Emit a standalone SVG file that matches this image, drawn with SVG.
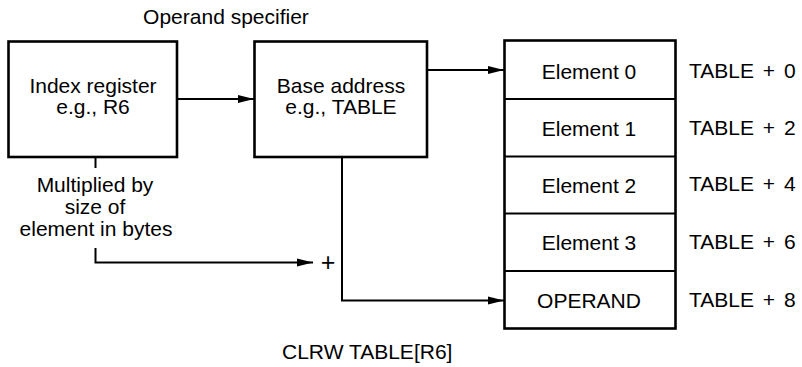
<svg xmlns="http://www.w3.org/2000/svg" width="802" height="367" viewBox="0 0 802 367">
  <style>
    text { font-family: "Liberation Sans", Arial, sans-serif; font-size: 21px; fill: #000; }
    .c { text-anchor: middle; }
    .box { fill: #fff; stroke: #000; stroke-width: 2.6; }
    .div { stroke: #000; stroke-width: 2; fill: none; }
    .wire { stroke: #000; stroke-width: 2; fill: none; }
    .lbl { word-spacing: 3px; }
    .plus { font-size: 25px; }
  </style>
  <defs>
    <marker id="arrow" viewBox="0 0 16 10" refX="16" refY="5" markerWidth="16" markerHeight="10" markerUnits="userSpaceOnUse" orient="auto">
      <path d="M0,1 L16,5 L0,9 Z" fill="#000"/>
    </marker>
  </defs>

  <text class="c" x="226" y="24">Operand specifier</text>

  <g id="index-register">
    <rect class="box" x="8.5" y="41.5" width="168.5" height="115.5"/>
    <text class="c" x="93" y="93">Index register</text>
    <text class="c" x="93" y="114">e.g., R6</text>
  </g>

  <g id="base-address">
    <rect class="box" x="254.5" y="41.5" width="172.5" height="115.5"/>
    <text class="c" x="341" y="93">Base address</text>
    <text class="c" x="341" y="114">e.g., TABLE</text>
  </g>

  <g id="table">
    <rect class="box" x="504.5" y="40.5" width="171" height="288"/>
    <line class="div" x1="504.5" y1="99" x2="675.5" y2="99"/>
    <line class="div" x1="504.5" y1="156.5" x2="675.5" y2="156.5"/>
    <line class="div" x1="504.5" y1="213.5" x2="675.5" y2="213.5"/>
    <line class="div" x1="504.5" y1="271" x2="675.5" y2="271"/>
    <text class="c" x="589" y="79">Element 0</text>
    <text class="c" x="589" y="136">Element 1</text>
    <text class="c" x="589" y="193">Element 2</text>
    <text class="c" x="589" y="250">Element 3</text>
    <text class="c" x="589" y="308">OPERAND</text>
  </g>

  <g id="offsets">
    <text class="lbl" x="689" y="78">TABLE + 0</text>
    <text class="lbl" x="689" y="135">TABLE + 2</text>
    <text class="lbl" x="689" y="191">TABLE + 4</text>
    <text class="lbl" x="689" y="249">TABLE + 6</text>
    <text class="lbl" x="689" y="307">TABLE + 8</text>
  </g>

  <g id="scale-note">
    <text class="c" x="95" y="192">Multiplied by</text>
    <text class="c" x="95" y="214">size of</text>
    <text class="c" x="96" y="236">element in bytes</text>
  </g>

  <g id="connectors">
    <line class="wire" x1="177" y1="99" x2="254" y2="99" marker-end="url(#arrow)"/>
    <line class="wire" x1="427" y1="70" x2="504" y2="70" marker-end="url(#arrow)"/>
    <polyline class="wire" points="342,157 342,300.5 504,300.5" marker-end="url(#arrow)"/>
    <line class="wire" x1="95.5" y1="157" x2="95.5" y2="168"/>
    <polyline class="wire" points="95.5,248 95.5,262.5 313,262.5" marker-end="url(#arrow)"/>
    <text class="c plus" x="328" y="271">+</text>
  </g>

  <text x="282" y="359">CLRW TABLE[R6]</text>
</svg>
